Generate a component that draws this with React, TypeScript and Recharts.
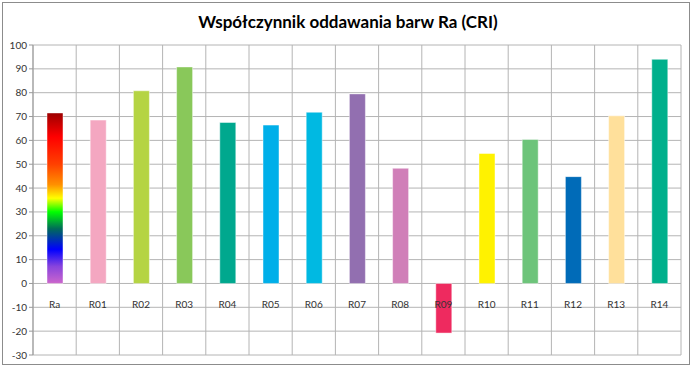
import React from 'react';
import { BarChart, Bar, XAxis, YAxis, CartesianGrid, Cell } from 'recharts';

const categories = ['Ra', 'R01', 'R02', 'R03', 'R04', 'R05', 'R06', 'R07', 'R08', 'R09', 'R10', 'R11', 'R12', 'R13', 'R14'];
const values = [71.5, 68.5, 80.8, 90.8, 67.5, 66.4, 71.8, 79.5, 48.3, -20.8, 54.5, 60.4, 44.8, 70.3, 94];
const colors = ['url(#raGrad)', '#f4a7c1', '#b5d443', '#89c85a', '#00a88e', '#00afe9', '#00b9e2', '#926fb0', '#d07fb8', '#ee2a5f', '#fff200', '#6dc47a', '#006bb8', '#ffe09b', '#00b08c'];
const yTicks = [-30, -20, -10, 0, 10, 20, 30, 40, 50, 60, 70, 80, 90, 100];

const Y_MIN = -30;
const Y_MAX = 100;
const PLOT_H = 310;

const data = categories.map((name, i) => ({ name, value: values[i] }));

// category labels sit on the zero line, not at the bottom of the plot
const renderZeroTick = (props: any) => {
  const { x, y, payload } = props;
  const up = ((0 - Y_MIN) / (Y_MAX - Y_MIN)) * PLOT_H;
  return (
    <text key={payload.value} x={x} y={y - up + 17} textAnchor="middle" fontSize={10} fill="#333" fontFamily="Lato">
      {payload.value}
    </text>
  );
};

const App = () => {
  return (
    <div style={{ position: 'absolute', left: 0, top: 0, width: 696, height: 369, background: '#fff' }}>
      <div
        style={{
          position: 'absolute', left: 2, top: 2, width: 688, height: 363,
          border: '1.5px solid #8c8c8c', boxSizing: 'border-box',
        }}
      />
      <div
        style={{
          position: 'absolute', left: 0, top: 11, width: 696, textAlign: 'center',
          fontFamily: 'Lato', fontWeight: 'bold', fontSize: 17, color: '#000',
        }}
      >
        Współczynnik oddawania barw Ra (CRI)
      </div>
      <BarChart
        width={696}
        height={369}
        data={data}
        margin={{ top: 45, right: 15, bottom: 13, left: 1 }}
        barSize={16}
        style={{ position: 'absolute', left: 0, top: 0 }}
      >
        <defs>
          <linearGradient id="raGrad" x1="0" y1="0" x2="0" y2="1">
            <stop offset="0%" stopColor="#9c0000" />
            <stop offset="14%" stopColor="#ff0000" />
            <stop offset="30%" stopColor="#ff4000" />
            <stop offset="42%" stopColor="#ff9000" />
            <stop offset="50%" stopColor="#ffff00" />
            <stop offset="58%" stopColor="#00ff00" />
            <stop offset="68%" stopColor="#006a5a" />
            <stop offset="80%" stopColor="#0000ff" />
            <stop offset="90%" stopColor="#8844dd" />
            <stop offset="100%" stopColor="#cc66cc" />
          </linearGradient>
        </defs>
        <CartesianGrid
          stroke="#b4b4b4"
          strokeWidth={1}
          verticalCoordinatesGenerator={({ offset }: any) =>
            categories.map((_, i) => offset.left + (i * offset.width) / categories.length).concat(offset.left + offset.width)
          }
        />
        <YAxis
          domain={[Y_MIN, Y_MAX]}
          ticks={yTicks}
          interval={0}
          width={32}
          axisLine={{ stroke: '#999' }}
          tickLine={{ stroke: '#999' }}
          tickSize={4}
          tick={{ fontSize: 10, fill: '#333', fontFamily: 'Lato' }}
        />
        <Bar dataKey="value" isAnimationActive={false} stroke="rgba(255,255,255,0.45)" strokeWidth={1}>
          {data.map((d, i) => (
            <Cell key={d.name} fill={colors[i]} />
          ))}
        </Bar>
        <XAxis
          dataKey="name"
          height={1}
          axisLine={false}
          tickLine={false}
          tick={renderZeroTick}
          interval={0}
        />
      </BarChart>
    </div>
  );
};

export default App;
